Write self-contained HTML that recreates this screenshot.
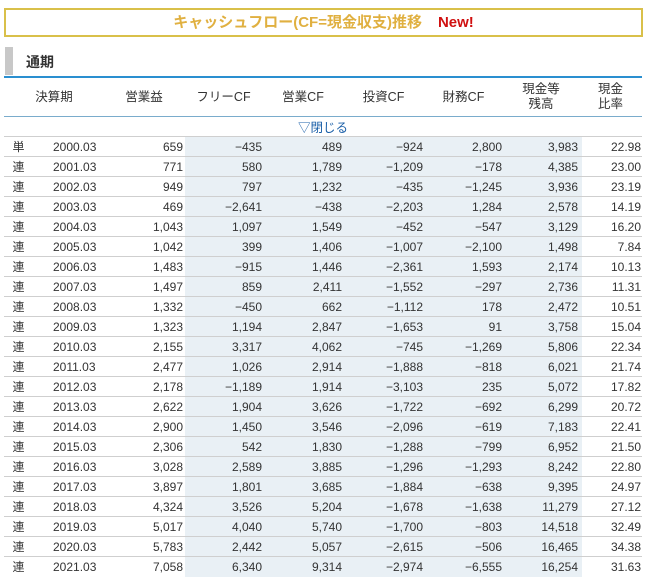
<!DOCTYPE html>
<html><head><meta charset="utf-8"><style>
body{margin:0;width:646px;height:578px;background:#fff;font-family:"Liberation Sans","Noto Sans CJK JP",sans-serif;position:relative;overflow:hidden;color:#333}
.title{position:absolute;left:4px;top:8px;width:635px;height:25px;border:2px solid #d9c04a;text-align:center;line-height:25px;font-size:15px;font-weight:bold;color:#e0b040}
.title span{color:#d01010;margin-left:16px}
.sec{position:absolute;left:4px;top:47px;width:636px;height:28px}
.sec .bar{position:absolute;left:1px;top:0;width:8px;height:28px;background:#c8c8c8}
.sec .t{position:absolute;left:22px;top:5px;font-size:14px;font-weight:bold;color:#333}
.bl{position:absolute;left:4px;top:76px;width:638px;height:2px;background:#2a8fd0}
.shade{position:absolute;left:185px;top:137px;width:397px;height:440px;background:#e9f0f5}
table{position:absolute;left:4px;top:78px;border-collapse:collapse;font-size:12px;table-layout:fixed;width:638px}
td,th{padding:0;white-space:nowrap;overflow:hidden}
th{height:38px;font-weight:normal;font-size:12.5px;line-height:15px;border-bottom:1px solid #7aaccc;text-align:center}
tr.c td{height:19px;text-align:center;color:#1a5fa8;font-size:12.5px}
tr.r td{height:19px;border-top:1px solid #cfcfcf;text-align:right;color:#333;padding-right:1px}
td.k{text-align:center!important}
td.d{text-align:left!important;padding-left:19px}
</style></head><body>
<div class="title">キャッシュフロー(CF=現金収支)推移<span>New!</span></div>
<div class="sec"><div class="bar"></div><div class="t">通期</div></div>
<div class="bl"></div>
<div class="shade"></div>
<table>
<colgroup><col style="width:30px"><col style="width:70px"><col style="width:80px"><col style="width:79px"><col style="width:80px"><col style="width:81px"><col style="width:79px"><col style="width:76px"><col style="width:63px"></colgroup>
<tr><th colspan="2">決算期</th><th>営業益</th><th>フリーCF</th><th>営業CF</th><th>投資CF</th><th>財務CF</th><th>現金等<br>残高</th><th>現金<br>比率</th></tr>
<tr class="c"><td colspan="9">▽閉じる</td></tr>
<tr class="r"><td class="k">単</td><td class="d">2000.03</td><td>659</td><td>−435</td><td>489</td><td>−924</td><td>2,800</td><td>3,983</td><td>22.98</td></tr>
<tr class="r"><td class="k">連</td><td class="d">2001.03</td><td>771</td><td>580</td><td>1,789</td><td>−1,209</td><td>−178</td><td>4,385</td><td>23.00</td></tr>
<tr class="r"><td class="k">連</td><td class="d">2002.03</td><td>949</td><td>797</td><td>1,232</td><td>−435</td><td>−1,245</td><td>3,936</td><td>23.19</td></tr>
<tr class="r"><td class="k">連</td><td class="d">2003.03</td><td>469</td><td>−2,641</td><td>−438</td><td>−2,203</td><td>1,284</td><td>2,578</td><td>14.19</td></tr>
<tr class="r"><td class="k">連</td><td class="d">2004.03</td><td>1,043</td><td>1,097</td><td>1,549</td><td>−452</td><td>−547</td><td>3,129</td><td>16.20</td></tr>
<tr class="r"><td class="k">連</td><td class="d">2005.03</td><td>1,042</td><td>399</td><td>1,406</td><td>−1,007</td><td>−2,100</td><td>1,498</td><td>7.84</td></tr>
<tr class="r"><td class="k">連</td><td class="d">2006.03</td><td>1,483</td><td>−915</td><td>1,446</td><td>−2,361</td><td>1,593</td><td>2,174</td><td>10.13</td></tr>
<tr class="r"><td class="k">連</td><td class="d">2007.03</td><td>1,497</td><td>859</td><td>2,411</td><td>−1,552</td><td>−297</td><td>2,736</td><td>11.31</td></tr>
<tr class="r"><td class="k">連</td><td class="d">2008.03</td><td>1,332</td><td>−450</td><td>662</td><td>−1,112</td><td>178</td><td>2,472</td><td>10.51</td></tr>
<tr class="r"><td class="k">連</td><td class="d">2009.03</td><td>1,323</td><td>1,194</td><td>2,847</td><td>−1,653</td><td>91</td><td>3,758</td><td>15.04</td></tr>
<tr class="r"><td class="k">連</td><td class="d">2010.03</td><td>2,155</td><td>3,317</td><td>4,062</td><td>−745</td><td>−1,269</td><td>5,806</td><td>22.34</td></tr>
<tr class="r"><td class="k">連</td><td class="d">2011.03</td><td>2,477</td><td>1,026</td><td>2,914</td><td>−1,888</td><td>−818</td><td>6,021</td><td>21.74</td></tr>
<tr class="r"><td class="k">連</td><td class="d">2012.03</td><td>2,178</td><td>−1,189</td><td>1,914</td><td>−3,103</td><td>235</td><td>5,072</td><td>17.82</td></tr>
<tr class="r"><td class="k">連</td><td class="d">2013.03</td><td>2,622</td><td>1,904</td><td>3,626</td><td>−1,722</td><td>−692</td><td>6,299</td><td>20.72</td></tr>
<tr class="r"><td class="k">連</td><td class="d">2014.03</td><td>2,900</td><td>1,450</td><td>3,546</td><td>−2,096</td><td>−619</td><td>7,183</td><td>22.41</td></tr>
<tr class="r"><td class="k">連</td><td class="d">2015.03</td><td>2,306</td><td>542</td><td>1,830</td><td>−1,288</td><td>−799</td><td>6,952</td><td>21.50</td></tr>
<tr class="r"><td class="k">連</td><td class="d">2016.03</td><td>3,028</td><td>2,589</td><td>3,885</td><td>−1,296</td><td>−1,293</td><td>8,242</td><td>22.80</td></tr>
<tr class="r"><td class="k">連</td><td class="d">2017.03</td><td>3,897</td><td>1,801</td><td>3,685</td><td>−1,884</td><td>−638</td><td>9,395</td><td>24.97</td></tr>
<tr class="r"><td class="k">連</td><td class="d">2018.03</td><td>4,324</td><td>3,526</td><td>5,204</td><td>−1,678</td><td>−1,638</td><td>11,279</td><td>27.12</td></tr>
<tr class="r"><td class="k">連</td><td class="d">2019.03</td><td>5,017</td><td>4,040</td><td>5,740</td><td>−1,700</td><td>−803</td><td>14,518</td><td>32.49</td></tr>
<tr class="r"><td class="k">連</td><td class="d">2020.03</td><td>5,783</td><td>2,442</td><td>5,057</td><td>−2,615</td><td>−506</td><td>16,465</td><td>34.38</td></tr>
<tr class="r"><td class="k">連</td><td class="d">2021.03</td><td>7,058</td><td>6,340</td><td>9,314</td><td>−2,974</td><td>−6,555</td><td>16,254</td><td>31.63</td></tr>
</table>
</body></html>
